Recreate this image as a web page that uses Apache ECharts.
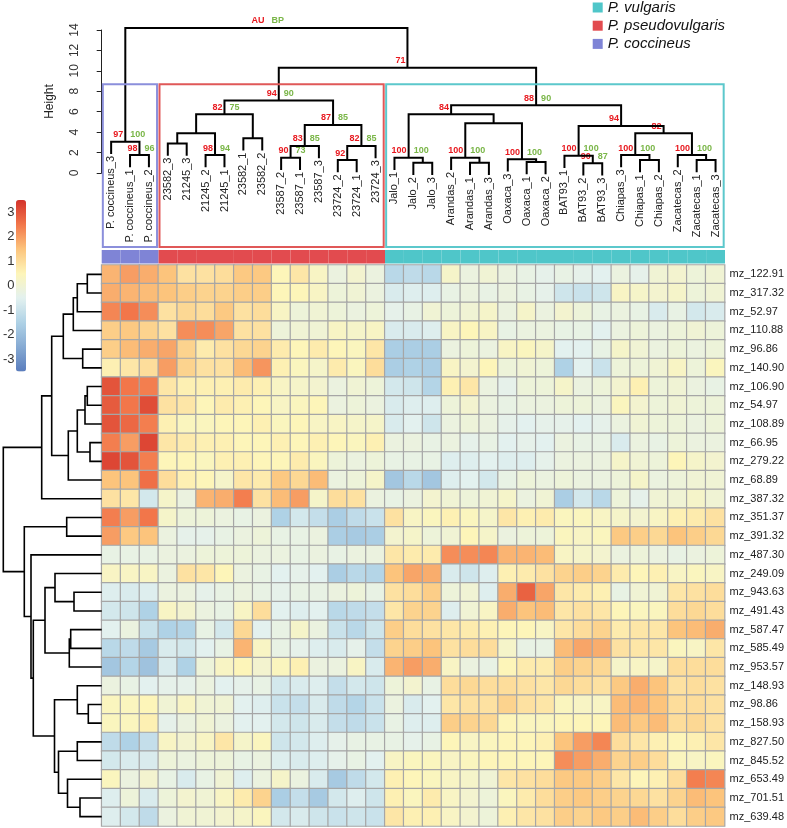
<!DOCTYPE html>
<html><head><meta charset="utf-8">
<script src="https://cdn.jsdelivr.net/npm/echarts@6/dist/echarts.min.js"></script>
<style>html,body{margin:0;padding:0;background:#fff}#c{width:787px;height:828px}</style>
</head><body><div id="c"></div>
<script>
// ---------- DATA ----------
const colLabels = ['P. coccineus_3','P. coccineus_1','P. coccineus_2','23582_3','21245_3','21245_2','21245_1','23582_1','23582_2','23587_2','23587_1','23587_3','23724_2','23724_1','23724_3','Jalo_1','Jalo_2','Jalo_3','Arandas_2','Arandas_1','Arandas_3','Oaxaca_3','Oaxaca_1','Oaxaca_2','BAT93_1','BAT93_2','BAT93_3','Chiapas_3','Chiapas_1','Chiapas_2','Zacatecas_2','Zacatecas_1','Zacatecas_3'];
const groupNames = ['P. vulgaris','P. pseudovulgaris','P. coccineus'];
// group index (into groupNames) of every column
const colGroup = [2,2,2, 1,1,1,1,1,1,1,1,1,1,1,1, 0,0,0,0,0,0,0,0,0,0,0,0,0,0,0,0,0,0];
const rowLabels = ['mz_122.91','mz_317.32','mz_52.97','mz_110.88','mz_96.86','mz_140.90','mz_106.90','mz_54.97','mz_108.89','mz_66.95','mz_279.22','mz_68.89','mz_387.32','mz_351.37','mz_391.32','mz_487.30','mz_249.09','mz_943.63','mz_491.43','mz_587.47','mz_585.49','mz_953.57','mz_148.93','mz_98.86','mz_158.93','mz_827.50','mz_845.52','mz_653.49','mz_701.51','mz_639.48'];
const heatValues = [
 [1.7,2.0,1.8,1.5,0.9,0.9,1.0,1.4,1.4,0.5,0.8,0.3,-0.2,0.1,-0.2,-1.3,-1.2,-1.3,0.2,-0.2,0.0,-0.2,-0.3,-0.4,-0.3,-0.4,-0.5,-0.2,-0.4,0.0,0.1,-0.1,0.0],
 [1.8,1.7,1.6,1.5,1.3,1.2,1.2,1.3,1.3,0.5,0.5,0.3,-0.1,0.0,-0.2,-0.7,-0.6,-0.6,-0.3,-0.2,-0.3,-0.2,-0.3,-0.4,-0.9,-1.0,-0.9,0.3,0.2,0.1,0.2,-0.1,0.0],
 [2.3,2.5,2.2,0.9,1.1,1.0,1.4,0.9,1.0,0.3,-0.1,0.0,-0.1,-0.2,-0.1,-0.4,-0.3,0.0,-0.1,0.0,0.2,-0.2,0.2,-0.2,0.1,-0.1,-0.3,-0.2,-0.3,-0.7,-0.3,-0.8,-0.7],
 [1.3,1.4,1.2,0.9,2.2,2.2,1.9,0.9,0.9,-0.1,0.0,0.0,0.3,0.2,0.3,-0.7,-0.7,-0.6,0.3,0.5,0.3,-0.3,-0.2,-0.2,-0.3,-0.3,-0.5,-0.2,-0.1,-0.2,-0.1,0.0,-0.1],
 [1.3,1.6,1.8,1.9,1.2,0.7,0.9,1.1,1.2,0.7,0.5,0.7,0.5,0.4,0.8,-1.6,-1.6,-1.6,-0.2,-0.1,-0.2,0.3,0.4,0.2,-0.5,-0.5,-0.3,0.2,0.0,-0.2,-0.1,-0.2,-0.1],
 [0.6,0.8,1.0,2.0,1.2,0.9,0.9,1.6,2.1,0.6,0.4,0.2,0.7,0.4,1.0,-1.6,-1.5,-1.6,0.3,0.1,0.5,-0.1,0.0,-0.1,-1.5,-0.5,-1.0,-0.1,-0.1,0.0,0.3,-0.1,0.4],
 [3.0,2.5,2.4,0.8,0.6,0.6,0.6,0.7,0.6,0.3,0.2,0.1,-0.2,0.0,-0.1,-0.8,-0.9,-1.4,0.6,0.8,-0.2,-0.4,-0.1,-0.1,0.2,-0.2,-0.1,0.1,0.6,-0.1,0.0,-0.2,-0.3],
 [2.9,2.5,3.1,0.9,0.8,0.5,0.7,0.6,0.5,0.3,0.4,0.5,-0.2,-0.1,-0.2,-0.7,-0.6,-0.6,-0.1,0.1,-0.2,-0.3,-0.2,-0.2,-0.1,-0.1,-0.2,0.4,0.1,-0.1,0.0,-0.1,-0.1],
 [3.0,2.7,2.4,0.6,0.4,0.4,0.5,0.5,0.6,0.4,0.5,0.3,0.3,0.2,0.2,-0.7,-0.5,-0.9,-0.2,-0.1,-0.2,-0.4,-0.5,-0.4,-0.4,-0.5,-0.4,-0.2,0.0,-0.1,-0.1,-0.2,-0.1],
 [2.4,2.0,3.2,0.8,0.7,0.6,0.6,0.5,0.5,0.6,0.5,0.6,0.5,0.4,0.6,-0.2,-0.2,-0.3,-0.2,-0.4,-0.3,-0.5,-0.4,-0.5,-0.2,-0.3,-0.3,-0.7,-0.2,-0.3,-0.1,-0.2,-0.2],
 [3.2,3.0,2.4,0.5,0.5,0.4,0.6,0.6,0.5,0.5,0.7,0.4,-0.1,-0.2,-0.1,-0.3,-0.3,-0.3,-0.6,-0.6,-0.5,-0.6,-0.6,-0.4,-0.2,-0.2,-0.2,0.2,0.0,-0.1,0.5,0.2,0.1],
 [1.5,1.5,2.6,1.0,0.6,0.5,0.2,0.8,0.7,1.4,1.1,1.6,-0.2,-0.1,0.2,-1.8,-1.3,-1.8,-0.6,-0.5,-0.8,-0.3,-0.1,-0.2,-0.1,-0.2,-0.2,-0.1,0.2,-0.2,-0.1,0.0,0.0],
 [0.9,0.8,-0.8,0.2,-0.2,1.7,1.8,2.4,0.9,1.6,2.0,0.2,1.0,0.9,-0.2,-0.3,-0.2,0.1,0.0,-0.1,0.0,0.2,-0.2,0.0,-1.6,-0.8,-1.3,-0.1,-0.4,0.0,0.0,0.2,0.0],
 [2.4,2.0,2.5,0.2,-0.1,-0.1,-0.2,-0.3,-0.2,-1.5,-0.8,-1.1,-1.6,-1.2,-1.0,0.9,0.3,0.4,0.6,0.4,0.2,0.8,0.6,0.7,0.4,0.4,0.3,0.2,0.1,0.3,0.6,0.7,0.9],
 [2.0,1.4,1.5,-0.2,-0.4,-0.4,-0.3,-0.2,-0.1,-0.3,-0.3,-0.2,-1.6,-1.7,-1.6,0.1,0.2,-0.1,0.0,0.5,0.2,-0.2,-0.1,-0.1,0.4,0.3,0.4,1.4,1.3,1.1,1.5,1.3,1.1],
 [-0.3,-0.3,-0.3,-0.2,-0.2,-0.1,-0.1,-0.1,-0.2,-0.2,-0.3,-0.2,-0.3,-0.2,-0.2,0.8,0.7,0.7,2.2,2.2,2.3,1.7,1.7,1.6,0.3,0.2,0.1,-0.2,-0.1,-0.2,-0.3,-0.2,-0.1],
 [0.3,0.3,0.3,-0.2,0.9,0.8,0.5,-0.2,-0.3,-0.5,-0.4,-0.5,-1.6,-1.3,-1.4,1.5,1.9,1.8,-0.7,-0.9,-0.6,0.6,0.7,0.9,1.2,1.3,1.2,0.7,0.5,0.6,0.3,0.4,0.3],
 [-0.6,-0.7,-0.6,-0.2,-0.2,-0.4,-0.3,-0.2,-0.3,-0.4,-0.3,-0.3,-0.2,-0.1,-0.3,0.9,1.0,1.3,-0.1,0.0,-0.6,1.8,2.8,1.9,0.8,0.7,0.6,-0.3,0.0,0.0,0.8,0.9,1.0],
 [-0.8,-0.9,-1.5,0.3,0.1,-0.2,-0.3,0.3,1.0,-0.5,-0.6,-0.5,-1.3,-1.2,-1.1,0.8,1.2,1.2,-0.6,0.0,0.3,1.8,1.5,1.6,0.8,0.9,0.8,0.5,0.4,0.4,1.0,1.1,1.0],
 [-0.5,-0.2,-1.0,-1.5,-1.4,-0.3,-0.8,1.1,-0.5,-0.3,0.2,-0.2,-1.0,-1.3,-0.9,1.3,1.0,0.9,0.8,0.7,0.6,0.5,0.5,0.3,0.8,1.0,1.2,0.7,0.8,0.8,1.5,1.6,1.8],
 [-1.3,-1.2,-1.7,-0.7,-0.8,-0.5,-0.3,1.7,0.3,-0.3,-0.4,-0.6,-0.7,-0.4,-1.1,1.2,1.3,1.5,0.9,1.0,1.0,0.2,-0.3,-0.3,1.6,1.9,1.8,0.9,0.8,0.8,0.4,0.3,0.8],
 [-1.8,-1.4,-1.9,-0.7,-1.5,-0.1,0.3,0.5,0.1,0.4,0.6,-0.2,-0.2,0.3,-0.7,1.7,2.0,1.8,0.3,-0.2,-0.3,0.5,0.7,0.7,1.3,1.2,1.1,0.2,0.3,0.2,1.0,1.0,1.0],
 [-0.2,-0.3,-0.5,-0.4,-0.4,-0.2,-0.5,-0.4,-0.3,-0.8,-0.7,-0.6,-1.1,-0.8,-0.9,-0.1,0.1,-0.3,1.0,1.1,1.0,1.0,0.9,0.8,1.1,1.0,0.9,1.4,1.8,1.5,0.9,1.0,0.9],
 [0.4,0.4,0.5,0.0,0.3,0.0,0.0,-0.5,-0.6,-1.0,-1.1,-0.7,-1.2,-1.4,-1.0,-0.2,-0.7,-0.5,0.8,0.9,0.9,1.2,0.9,0.8,0.4,0.3,0.3,1.6,1.7,1.5,1.0,1.0,0.9],
 [0.4,0.4,0.6,-0.4,-0.2,0.0,-0.2,-0.5,-0.5,-0.8,-0.9,-0.7,-1.1,-1.2,-1.0,-0.3,-0.6,-0.6,1.3,1.2,1.1,0.5,0.4,0.4,0.5,0.5,0.5,1.6,1.4,1.6,1.0,1.1,0.9],
 [-1.2,-1.5,-1.1,0.3,0.1,0.3,0.8,0.2,0.4,-0.9,-0.8,-0.6,-0.4,-0.3,-0.3,-0.3,-0.4,-0.3,0.5,0.3,0.4,0.5,0.5,0.6,1.5,2.0,2.3,1.0,0.8,0.6,0.5,0.6,0.8],
 [-0.8,-0.7,-0.7,-0.1,-0.2,-0.1,-0.1,-0.3,-0.2,-0.6,-0.7,-0.6,-0.4,-0.3,-0.5,0.3,0.4,0.4,0.3,0.4,0.5,0.5,0.5,0.5,2.2,2.0,1.8,1.2,1.3,1.0,0.4,0.3,0.4],
 [0.4,-0.2,0.1,-0.3,-0.7,-0.3,0.0,-0.6,-0.2,0.2,-0.2,-0.7,-1.7,-1.2,-0.8,0.6,0.5,0.4,0.3,0.2,0.0,0.8,0.9,1.0,1.4,1.4,1.3,0.8,0.5,0.6,1.0,2.4,2.3],
 [-0.6,-0.1,-0.7,-0.1,0.1,0.0,0.3,0.7,1.2,-1.6,-1.1,-1.7,-0.8,-0.6,-0.9,0.6,0.4,0.7,0.3,0.1,-0.1,0.4,0.7,1.0,1.3,1.4,1.3,1.2,1.1,0.9,1.2,1.6,1.5],
 [-0.6,-0.8,-1.2,-0.2,0.0,0.0,0.1,0.2,0.4,-0.8,-0.7,-0.9,-1.0,-0.9,-1.0,0.8,0.6,0.6,0.3,0.1,-0.1,0.6,0.8,0.9,1.3,1.2,1.4,1.3,1.6,1.3,1.0,1.3,1.4]
];
// column dendrogram (hclust style: negative = leaf number, positive = earlier merge row)
const colMerge = [[-2,-3],[-1,1],[-4,-5],[-6,-7],[3,4],[-8,-9],[5,6],[-10,-11],[8,-12],[-13,-14],[10,-15],[9,11],[7,12],
 [-17,-18],[-16,14],[-20,-21],[-19,16],[-23,-24],[-22,18],[17,19],[15,20],[-26,-27],[-25,22],[-29,-30],[-28,24],[-32,-33],[-31,26],[25,27],[23,28],[21,29],[13,30],[2,31]];
const colHeight = [1.76,3.07,2.9,1.76,3.9,3.4,5.75,1.5,2.65,1.27,2.65,4.7,7.09,1.0,1.5,1.0,1.5,1.08,1.34,4.87,5.75,0.95,1.7,1.27,1.76,1.27,1.76,3.9,4.6,6.63,10.3,14.2];
const colAU = [98,97,null,98,null,null,82,90,83,92,82,87,94,null,100,null,100,null,100,null,84,90,100,null,100,null,100,82,94,88,71,'AU'];
const colBP = [96,100,null,94,null,null,75,73,85,null,85,85,90,null,100,null,100,null,100,null,null,87,100,null,100,null,100,null,null,90,null,'BP'];
const heightTicks = [0,2,4,6,8,10,12,14];
// row dendrogram
const rowMerge = [[-1,-2],[1,-3],[2,-4],[-5,-6],[3,4],[-7,-8],[6,-9],[-10,-11],[7,8],[9,-12],[5,10],[11,-13],
 [-14,-15],[-18,-19],[-17,14],[-20,-21],[16,-22],[15,17],[-24,-25],[-23,19],[-26,-27],[-29,-30],[-28,22],[21,23],[20,24],[18,25],[-16,26],[13,27],[12,28]];
const rowHeight = [14.4,24.4,28.4,19,38.4,14.4,16.7,11.7,24.4,33.4,50,60,35,27.7,46.7,31,32.4,56.7,13.4,24.4,24.4,21.7,34.2,43.2,47.2,68.4,70.7,77.4,98.4];
const scaleTicks = [3,2,1,0,-1,-2,-3];

// ---------- LAYOUT ----------
const FONT = '"Liberation Sans", Arial, sans-serif';
const groupColors = ['#4fc6c9','#e24b4f','#7f84d6'];
const boxColors = ['#5cc8cc','#e05858','#8b8fdb'];
const HANG = 1.2;
const HM = {left:101.7, top:265, width:623.3, height:561};

function buildTree(merge, height, au, bp, leafPos) {
  const nodes = [];
  const child = id => id < 0 ? {leaf:true, idx:-id-1, x:leafPos(-id-1), h:null} : {leaf:false, x:nodes[id-1].x, h:nodes[id-1].h};
  merge.forEach((m, i) => {
    const a = child(m[0]), b = child(m[1]);
    nodes.push({a, b, x:(a.x+b.x)/2, h:height[i], au: au ? au[i] : null, bp: bp ? bp[i] : null});
  });
  return nodes;
}
const colNodes = buildTree(colMerge, colHeight, colAU, colBP, k => k + 0.5);
const rowNodes = buildTree(rowMerge, rowHeight, null, null, k => k + 0.5);

// group ranges for boxes
const groupRanges = [];
colGroup.forEach((g, i) => {
  const last = groupRanges[groupRanges.length-1];
  if (last && last.g === g) last.x1 = i + 1; else groupRanges.push({g, x0:i, x1:i+1});
});

const heatData = [];
heatValues.forEach((row, r) => row.forEach((v, c) => heatData.push([c, r, v])));

const chart = echarts.init(document.getElementById('c'), null, {renderer:'canvas'});
const txt = (x, y, s, o) => ({type:'text', x, y, rotation:o.rot||0, style:Object.assign({text:s, fontFamily:FONT}, o.style)});

const option = {
  animation:false,
  textStyle:{fontFamily:FONT},
  legend:{
    orient:'vertical', left:592.7, top:0, padding:0, itemWidth:10, itemHeight:10, itemGap:3.2,
    icon:'rect', selectedMode:false, data:groupNames,
    textStyle:{fontSize:15, fontStyle:'italic', color:'#111', fontFamily:FONT}
  },
  visualMap:{
    type:'continuous', seriesIndex:0, min:-3.5, max:3.5, calculable:false, orient:'vertical',
    left:16, top:200, itemWidth:10, itemHeight:171.5, padding:0, text:null, showLabel:false,
    inRange:{color:['#5a7dbd','#86aad3','#afd2e6','#e3f1ef','#fdf5b9','#fcc47c','#f2764a','#d4322b']}
  },
  grid:[
    Object.assign({}, HM),
    {left:HM.left, top:250, width:HM.width, height:13.5},
    {left:HM.left, top:30, width:HM.width, height:143},
    {left:0, top:HM.top, width:HM.left, height:HM.height},
    {left:16, top:200, width:10, height:171.5}
  ],
  xAxis:[
    {gridIndex:0, type:'category', data:colLabels, show:false},
    {gridIndex:1, type:'category', data:colLabels, show:false},
    {gridIndex:2, type:'value', min:0, max:colLabels.length, show:false},
    {gridIndex:3, type:'value', min:0, max:HM.left, inverse:true, show:false},
    {gridIndex:4, type:'value', min:0, max:1, show:false}
  ],
  yAxis:[
    {gridIndex:0, type:'category', data:rowLabels, inverse:true, position:'right',
     axisLine:{show:false}, axisTick:{show:false},
     axisLabel:{fontSize:11, color:'#222', margin:5, fontFamily:FONT}},
    {gridIndex:1, type:'value', min:0, max:1, show:false},
    {gridIndex:2, type:'value', min:0, max:14, interval:2, offset:18.7, name:'Height',
     nameLocation:'middle', nameGap:27, nameRotate:90,
     nameTextStyle:{fontSize:12, color:'#222', fontFamily:FONT},
     axisLine:{show:true, lineStyle:{color:'#222', width:1}},
     axisTick:{show:true, length:5, lineStyle:{color:'#222'}},
     axisLabel:{rotate:90, fontSize:12, color:'#333', margin:2, fontFamily:FONT, customValues:heightTicks},
     splitLine:{show:false}},
    {gridIndex:3, type:'value', min:0, max:rowLabels.length, inverse:true, show:false},
    {gridIndex:4, type:'value', min:-3.5, max:3.5, position:'left',
     axisLine:{show:false}, axisTick:{show:false}, splitLine:{show:false},
     axisLabel:{fontSize:13, color:'#333', margin:6, fontFamily:FONT, customValues:scaleTicks}}
  ],
  series:[
    {type:'heatmap', xAxisIndex:0, yAxisIndex:0, data:heatData, silent:true,
     itemStyle:{borderColor:'#a6a6a6', borderWidth:1.2}},
    // annotation bar (one series per group, also feeds the legend)
    ...groupNames.map((name, g) => ({
      type:'bar', name, xAxisIndex:1, yAxisIndex:1, stack:'ann', barWidth:'100%', barCategoryGap:'0%', silent:true,
      data:colGroup.map(cg => cg === g ? 1 : '-'), itemStyle:{color:groupColors[g]}
    })),
    // column dendrogram
    {type:'custom', xAxisIndex:2, yAxisIndex:2, silent:true, clip:false,
     data:colNodes.map(n => [n.x, n.h]), encode:{x:0, y:1},
     renderItem:(params, api) => {
       const n = colNodes[params.dataIndex];
       const ha = n.a.leaf ? n.h - HANG : n.a.h, hb = n.b.leaf ? n.h - HANG : n.b.h;
       const p1 = api.coord([n.a.x, ha]), p2 = api.coord([n.a.x, n.h]);
       const p3 = api.coord([n.b.x, n.h]), p4 = api.coord([n.b.x, hb]);
       const mid = api.coord([n.x, n.h]);
       const ch = [{type:'polyline', shape:{points:[p1,p2,p3,p4]}, style:{stroke:'#000', lineWidth:2, fill:'none'}}];
       if (n.au != null) ch.push(txt(mid[0]-2, mid[1]-7, String(n.au), {style:{textAlign:'right', textVerticalAlign:'middle', align:'right', verticalAlign:'middle', fill:'#e8191f', fontSize:9, fontWeight:'bold'}}));
       if (n.bp != null) ch.push(txt(mid[0]+5, mid[1]-7, String(n.bp), {style:{textAlign:'left', textVerticalAlign:'middle', align:'left', verticalAlign:'middle', fill:'#7ab648', fontSize:9, fontWeight:'bold'}}));
       [[n.a, p1], [n.b, p4]].forEach(([c, p]) => {
         if (c.leaf) ch.push(txt(p[0], p[1]+2, colLabels[c.idx], {rot:Math.PI/2, style:{textAlign:'right', textVerticalAlign:'middle', align:'right', verticalAlign:'middle', fill:'#222', fontSize:11}}));
       });
       return {type:'group', children:ch};
     }},
    // cluster boxes
    {type:'custom', xAxisIndex:2, yAxisIndex:2, silent:true, clip:false,
     data:groupRanges.map(r => [r.x0, r.x1]),
     renderItem:(params, api) => {
       const r = groupRanges[params.dataIndex];
       const a = api.coord([r.x0 + 0.06, 8.68]), b = api.coord([r.x1 - 0.07, -7.25]);
       return {type:'rect', shape:{x:a[0], y:a[1], width:b[0]-a[0], height:b[1]-a[1]},
               style:{stroke:boxColors[r.g], lineWidth:2, fill:'none'}};
     }},
    // row dendrogram
    {type:'custom', xAxisIndex:3, yAxisIndex:3, silent:true, clip:false,
     data:rowNodes.map(n => [n.h, n.x]), encode:{x:0, y:1},
     renderItem:(params, api) => {
       const n = rowNodes[params.dataIndex];
       const ha = n.a.leaf ? 0 : n.a.h, hb = n.b.leaf ? 0 : n.b.h;
       const pts = [api.coord([ha, n.a.x]), api.coord([n.h, n.a.x]), api.coord([n.h, n.b.x]), api.coord([hb, n.b.x])];
       return {type:'polyline', shape:{points:pts}, style:{stroke:'#000', lineWidth:1.6, fill:'none'}};
     }},
    {type:'scatter', xAxisIndex:4, yAxisIndex:4, data:[], silent:true}
  ]
};
chart.setOption(option);
</script></body></html>
